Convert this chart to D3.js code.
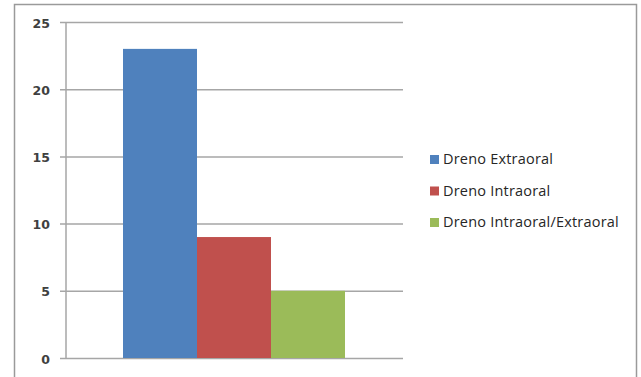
<!DOCTYPE html>
<html>
<head>
<meta charset="utf-8">
<script src="https://cdn.jsdelivr.net/npm/d3@7"></script>
<style>
  html, body { margin: 0; padding: 0; background: #fff; }
  svg { display: block; }
</style>
</head>
<body>
<svg id="chart" width="641" height="377"></svg>
<script>
// Series shown in the chart (one category group, three series)
const seriesNames = ["Dreno Extraoral", "Dreno Intraoral", "Dreno Intraoral/Extraoral"];
const seriesValues = [23, 9, 5];
const seriesColors = ["#4f81bd", "#c0504d", "#9bbb59"];
const yTicks = [0, 5, 10, 15, 20, 25];

const svg = d3.select("#chart");

// Outer chart frame
svg.append("rect")
  .attr("x", 14.5).attr("y", 4.5)
  .attr("width", 622).attr("height", 390)
  .attr("fill", "#fff").attr("stroke", "#9a9a9a").attr("stroke-width", 1.5);

const plot = { left: 66, right: 403, top: 22, bottom: 358 };

const y = d3.scaleLinear().domain([0, 25]).range([plot.bottom, plot.top]);
const x = d3.scaleBand().domain(seriesNames).range([123, 345]).paddingInner(0).paddingOuter(0);

// Horizontal gridlines with tick marks
const yAxis = d3.axisLeft(y).tickValues(yTicks).tickSize(-(plot.right - plot.left)).tickPadding(0);
const gy = svg.append("g").attr("transform", `translate(${plot.left},0)`).call(yAxis);
gy.select(".domain").remove();
gy.selectAll(".tick line").attr("stroke", "#a6a6a6").attr("stroke-width", 1.5).attr("x1", -6);
gy.selectAll(".tick text")
  .attr("x", -16)
  .attr("dy", "0.4em")
  .attr("fill", "#404040")
  .style("font-family", "'DejaVu Sans', sans-serif")
  .style("font-size", "12.5px")
  .style("font-weight", "bold")
  .attr("text-anchor", "end");

// Vertical axis line
svg.append("line")
  .attr("x1", plot.left).attr("x2", plot.left)
  .attr("y1", plot.top).attr("y2", plot.bottom)
  .attr("stroke", "#a6a6a6").attr("stroke-width", 1.5);

// Bars
svg.append("g").selectAll("rect")
  .data(seriesNames.map((n, i) => ({ name: n, value: seriesValues[i], color: seriesColors[i] })))
  .join("rect")
  .attr("x", d => x(d.name))
  .attr("y", d => y(d.value))
  .attr("width", x.bandwidth())
  .attr("height", d => y(0) - y(d.value))
  .attr("fill", d => d.color);

// Legend
const legendY = d3.scalePoint().domain(seriesNames).range([159, 222]);
const lg = svg.append("g").selectAll("g")
  .data(seriesNames.map((n, i) => ({ name: n, color: seriesColors[i] })))
  .join("g")
  .attr("transform", d => `translate(430,${legendY(d.name)})`);
lg.append("rect").attr("x", 0).attr("y", -4).attr("width", 9).attr("height", 9).attr("fill", d => d.color);
lg.append("text")
  .attr("x", 13).attr("y", 0).attr("dy", "0.36em")
  .attr("fill", "#262626")
  .style("font-family", "'Open Sans', sans-serif")
  .style("font-size", "14.5px")
  .style("letter-spacing", "0.2px")
  .text(d => d.name);
</script>
</body>
</html>
